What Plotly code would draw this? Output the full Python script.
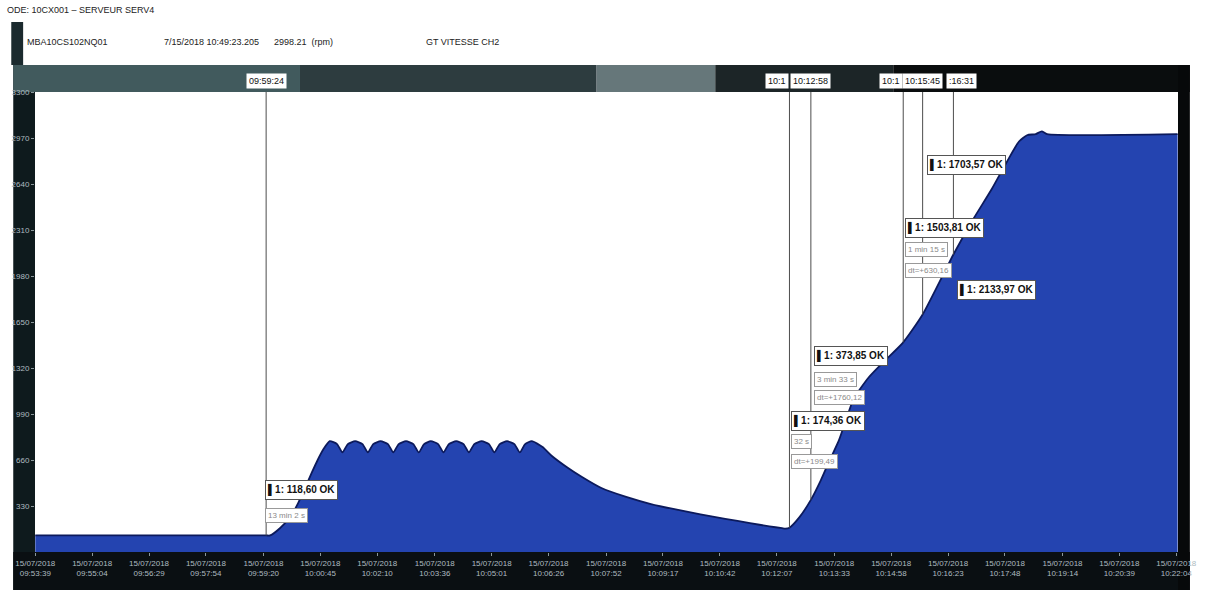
import pandas as pd
import plotly.graph_objects as go

DATE = "2018-07-15"

# GT speed record (clock time, rpm)
sample_times = [
    "09:53:39", "09:59:24", "09:59:30", "09:59:45", "10:00:00", "10:00:12",
    "10:00:22", "10:00:32", "10:00:41", "10:00:50",
    "10:00:59", "10:01:10", "10:01:18", "10:01:26",
    "10:01:37", "10:01:48", "10:01:56", "10:02:04",
    "10:02:15", "10:02:26", "10:02:34", "10:02:42",
    "10:02:53", "10:03:04", "10:03:12", "10:03:20",
    "10:03:30", "10:03:41", "10:03:49", "10:03:57",
    "10:04:08", "10:04:19", "10:04:27", "10:04:35",
    "10:04:46", "10:04:57", "10:05:05", "10:05:13",
    "10:05:24", "10:05:35", "10:05:43", "10:05:51",
    "10:06:01", "10:06:17", "10:06:31", "10:06:53", "10:07:16", "10:07:45",
    "10:08:22", "10:08:59", "10:09:36", "10:10:13", "10:10:50", "10:11:27",
    "10:11:56", "10:12:15", "10:12:20", "10:12:26", "10:12:41", "10:12:58",
    "10:13:13", "10:13:25", "10:13:40", "10:13:50", "10:14:02", "10:14:24",
    "10:14:46", "10:15:16", "10:15:45", "10:16:31", "10:16:59", "10:17:29",
    "10:17:51", "10:18:09", "10:18:21", "10:18:34", "10:18:43", "10:18:51",
    "10:22:06",
]
speed_rpm = [
    118.6, 118.6, 119, 172, 251, 352,
    459, 567, 660, 740,
    795, 774, 714, 774,
    795, 774, 714, 774,
    795, 774, 714, 774,
    795, 774, 714, 774,
    795, 774, 714, 774,
    795, 774, 714, 774,
    795, 774, 714, 774,
    795, 774, 714, 774,
    795, 753, 689, 610, 538, 459,
    395, 344, 305, 270, 238, 207,
    184, 171, 168, 174.36, 250, 373.85,
    516, 646, 803, 940, 1100, 1250,
    1360, 1503.81, 1703.57, 2133.97, 2375, 2610,
    2800, 2945, 2990, 2998, 3018, 2998,
    2998,
]

# Cursors placed on the trace
cursor_times = ["09:59:24", "10:12:26", "10:12:58", "10:15:16", "10:15:45", "10:16:31"]
cursor_rpm = [118.60, 174.36, 373.85, 1503.81, 1703.57, 2133.97]

# Axis ticks
x_tick_times = [
    "09:53:39", "09:55:04", "09:56:29", "09:57:54", "09:59:20", "10:00:45",
    "10:02:10", "10:03:36", "10:05:01", "10:06:26", "10:07:52", "10:09:17",
    "10:10:42", "10:12:07", "10:13:33", "10:14:58", "10:16:23", "10:17:48",
    "10:19:14", "10:20:39", "10:22:04",
]
x_tick_date = "15/07/2018"
y_tick_rpm = [330, 660, 990, 1320, 1650, 1980, 2310, 2640, 2970, 3300]

header_node = "ODE: 10CX001 – SERVEUR SERV4"
header_fields = ["MBA10CS102NQ01", "7/15/2018 10:49:23.205", "2998.21  (rpm)", "GT VITESSE CH2"]

# ---- layout geometry (pixels) ----
W, H = 1209, 590
L, R, T, B = 32, 21, 92, 38
NARROW = "Liberation Sans Narrow, Liberation Sans, Arial, sans-serif"


def ts(hms):
    return pd.Timestamp(f"{DATE} {hms}")


def px(x):
    return (x - L) / (W - L - R)


def py(y):
    return (H - B - y) / (H - T - B)


def fmt_dt(seconds):
    m, s = divmod(int(round(seconds)), 60)
    return f"{m} min {s} s" if m else f"{s} s"


fig = go.Figure()

fig.add_trace(go.Scatter(
    x=[ts(t) for t in sample_times], y=speed_rpm, mode="lines",
    line=dict(color="#0c1a5c", width=1.8, shape="spline", smoothing=0.55),
    fill="tozeroy", fillcolor="#2444b0", hoverinfo="skip", showlegend=False,
))

# vertical cursor lines from the top of the scale down to the trace
for t, v in zip(cursor_times, cursor_rpm):
    fig.add_trace(go.Scatter(
        x=[ts(t), ts(t)], y=[3300, v], mode="lines",
        line=dict(color="#4d4d4d", width=1), hoverinfo="skip", showlegend=False,
    ))

shapes = []


def rect(x0, y0, x1, y1, color):
    shapes.append(dict(type="rect", xref="paper", yref="paper",
                       x0=px(x0), x1=px(x1), y0=py(y1), y1=py(y0),
                       fillcolor=color, line=dict(width=0), layer="below"))


# dark frame around the plotting area
rect(8, 22, 20, 65, "#1b2a2e")
rect(10, 65, 32, 590, "#0e1a1d")
rect(10, 65, 300, 92, "#415a5d")
rect(300, 65, 600, 92, "#2d3c3f")
rect(600, 65, 720, 92, "#66777a")
rect(720, 65, 900, 92, "#1c2527")
rect(900, 65, 1200, 92, "#0a0d0e")
rect(10, 552, 1200, 590, "#0a0f12")
rect(1188, 65, 1200, 590, "#07090a")

annotations = []

# header
annotations.append(dict(text=header_node, xref="paper", yref="paper", x=px(2), y=py(10),
                        xanchor="left", yanchor="middle", showarrow=False,
                        font=dict(family=NARROW, size=9, color="#222")))
for text, x in zip(header_fields, [22, 160, 272, 425]):
    annotations.append(dict(text=text, xref="paper", yref="paper", x=px(x), y=py(42),
                            xanchor="left", yanchor="middle", showarrow=False,
                            font=dict(family=NARROW, size=9, color="#222")))

# cursor time tags in the top band; crowded tags are cut short
tag_style = [  # (characters shown, anchor, shift in px)
    (slice(None), "center", 0),
    (slice(0, 4), "right", 0),
    (slice(None), "center", 0),
    (slice(0, 4), "right", 0),
    (slice(None), "center", 0),
    (slice(2, None), "left", -7),
]
for t, (part, anchor, shift) in zip(cursor_times, tag_style):
    annotations.append(dict(text=t[part], xref="x", yref="paper",
                            x=ts(t), y=py(81), xanchor=anchor, xshift=shift, yanchor="middle",
                            showarrow=False, bgcolor="white", borderpad=2,
                            font=dict(family=NARROW, size=9, color="#111")))

# cursor value boxes: (left edge time, vertical centre in rpm)
value_box_pos = [("09:59:23", 445), ("10:12:29", 940), ("10:13:03", 1406),
                 ("10:15:19", 2324), ("10:15:51", 2776), ("10:16:37", 1880)]
for (xt, yv), v in zip(value_box_pos, cursor_rpm):
    label = "▌1: " + f"{v:.2f}".replace(".", ",") + " OK"
    annotations.append(dict(text=f"<b>{label}</b>", xref="x", yref="y", x=ts(xt), y=yv,
                            xanchor="left", yanchor="middle", showarrow=False,
                            bgcolor="white", bordercolor="#555", borderwidth=1, borderpad=2,
                            font=dict(family=NARROW, size=10, color="#111")))

# delta rows under value boxes: (from cursor, to cursor, left time, rpm rows)
delta_rows = [(0, 1, "09:59:23", [265]),
              (1, 2, "10:12:29", [796, 646]),
              (2, 5, "10:13:03", [1234, 1105]),
              (3, 5, "10:15:19", [2167, 2023])]
for a, b, xt, rows in delta_rows:
    dt = (ts(cursor_times[b]) - ts(cursor_times[a])).total_seconds()
    dv = cursor_rpm[b] - cursor_rpm[a]
    texts = [fmt_dt(dt), "dt=+" + f"{dv:.2f}".replace(".", ",")]
    for text, yv in zip(texts, rows):
        annotations.append(dict(text=text, xref="x", yref="y", x=ts(xt), y=yv,
                                xanchor="left", yanchor="middle", showarrow=False,
                                bgcolor="white", bordercolor="#999", borderwidth=1, borderpad=2,
                                font=dict(family=NARROW, size=8, color="#8a8a8a")))

fig.update_layout(
    width=W, height=H,
    margin=dict(l=L, r=R, t=T, b=B, pad=0),
    paper_bgcolor="white", plot_bgcolor="white",
    shapes=shapes, annotations=annotations, showlegend=False,
    xaxis=dict(
        type="date",
        range=[f"{DATE} 09:53:38.6", f"{DATE} 10:22:06.6"],
        tickmode="array",
        tickvals=[ts(t) for t in x_tick_times],
        ticktext=[f"{x_tick_date}<br>{t}" for t in x_tick_times],
        tickfont=dict(family=NARROW, size=8, color="#aebbc0"),
        ticks="outside", ticklen=3, tickcolor="#8a979b",
        showgrid=False, zeroline=False, showline=False,
    ),
    yaxis=dict(
        range=[0, 3300],
        tickmode="array",
        tickvals=y_tick_rpm,
        ticktext=[str(v) for v in y_tick_rpm],
        tickfont=dict(family=NARROW, size=8, color="#aebbc0"),
        ticks="outside", ticklen=3, tickcolor="#8a979b",
        showgrid=False, zeroline=False, showline=False,
    ),
)

fig.write_html("out.html")
